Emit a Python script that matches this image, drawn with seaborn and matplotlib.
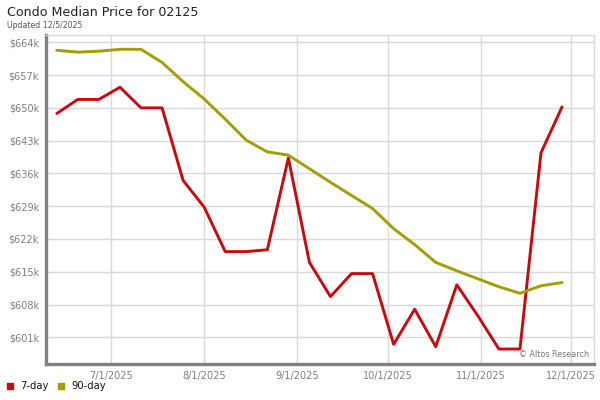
import matplotlib
matplotlib.use("Agg")
import matplotlib.pyplot as plt
import seaborn as sns
import pandas as pd

dates = ["2025-06-13", "2025-06-20", "2025-06-27", "2025-07-04", "2025-07-11",
         "2025-07-18", "2025-07-25", "2025-08-01", "2025-08-08", "2025-08-15",
         "2025-08-22", "2025-08-29", "2025-09-05", "2025-09-12", "2025-09-19",
         "2025-09-26", "2025-10-03", "2025-10-10", "2025-10-17", "2025-10-24",
         "2025-10-31", "2025-11-07", "2025-11-14", "2025-11-21", "2025-11-28"]
seven_day = [648.8, 651.8, 651.8, 654.4, 650.0, 650.0, 634.5, 628.8, 619.3, 619.3,
             619.7, 639.3, 617.0, 609.7, 614.6, 614.6, 599.5, 607.0, 599.0, 612.2,
             605.6, 598.5, 598.5, 640.4, 650.2]
ninety_day = [662.3, 661.9, 662.1, 662.5, 662.5, 659.7, 655.6, 651.9, 647.6, 643.1,
              640.6, 639.9, 637.0, 634.1, 631.3, 628.5, 624.2, 620.8, 617.0, 615.2,
              613.5, 611.8, 610.4, 612.0, 612.7]
y_ticks = [601, 608, 615, 622, 629, 636, 643, 650, 657, 664]
x_ticks = ["2025-07-01", "2025-08-01", "2025-09-01", "2025-10-01", "2025-11-01", "2025-12-01"]
series_names = ["7-day", "90-day"]
colors = {"7-day": "#c70a10", "90-day": "#a39e00"}

df = pd.DataFrame({
    "date": pd.to_datetime(dates * 2),
    "value": seven_day + ninety_day,
    "series": [series_names[0]] * len(dates) + [series_names[1]] * len(dates),
})

sns.set_theme(style="white")
plt.rcParams["font.family"] = ["DejaVu Sans"]

fig = plt.figure(figsize=(6, 4), dpi=100)
ax = fig.add_axes([0.0767, 0.09, 0.9133, 0.8225])

sns.lineplot(data=df, x="date", y="value", hue="series", palette=colors,
             linewidth=2.1, ax=ax, legend=False)

ax.set_xlim(pd.Timestamp("2025-06-09 10:00"), pd.Timestamp("2025-12-08 15:00"))
ax.set_ylim(595.3, 665.56)
ax.set_yticks(y_ticks)
ax.set_yticklabels([f"${v}k" for v in y_ticks])
xt = pd.to_datetime(x_ticks)
ax.set_xticks(xt)
ax.set_xticklabels([f"{d.month}/{d.day}/{d.year}" for d in xt])
ax.grid(True, color="#d9d9d9", linewidth=1)
ax.set_axisbelow(True)
ax.tick_params(axis="both", length=0, labelsize=7, labelcolor="#7f7f7f", pad=5)
ax.set_xlabel("")
ax.set_ylabel("")

for side in ["top", "right"]:
    ax.spines[side].set_color("#d9d9d9")
    ax.spines[side].set_linewidth(1)
for side in ["left", "bottom"]:
    ax.spines[side].set_color("#808080")
    ax.spines[side].set_linewidth(2.4)

fig.text(7 / 600, 1 - 13 / 400, "Condo Median Price for 02125", fontsize=9.1,
         color="#222222", va="center", ha="left")
fig.text(7 / 600, 1 - 25 / 400, "Updated 12/5/2025", fontsize=5.6, color="#555555",
         va="center", ha="left")
ax.text(0.99, 0.015, "© Altos Research", transform=ax.transAxes, fontsize=5.8,
        color="#777777", ha="right", va="bottom")

# legend
ly = 1 - 386 / 400
fig.patches.append(plt.Rectangle((7 / 600, ly - 2.8 / 400), 5.5 / 600, 5.5 / 400,
                                 transform=fig.transFigure, color=colors["7-day"]))
fig.text(20 / 600, ly, "7-day", fontsize=7.2, color="#111111", va="center", ha="left")
fig.patches.append(plt.Rectangle((58 / 600, ly - 2.8 / 400), 5.5 / 600, 5.5 / 400,
                                 transform=fig.transFigure, color=colors["90-day"]))
fig.text(71 / 600, ly, "90-day", fontsize=7.2, color="#111111", va="center", ha="left")

fig.savefig("out.png", dpi=100)
